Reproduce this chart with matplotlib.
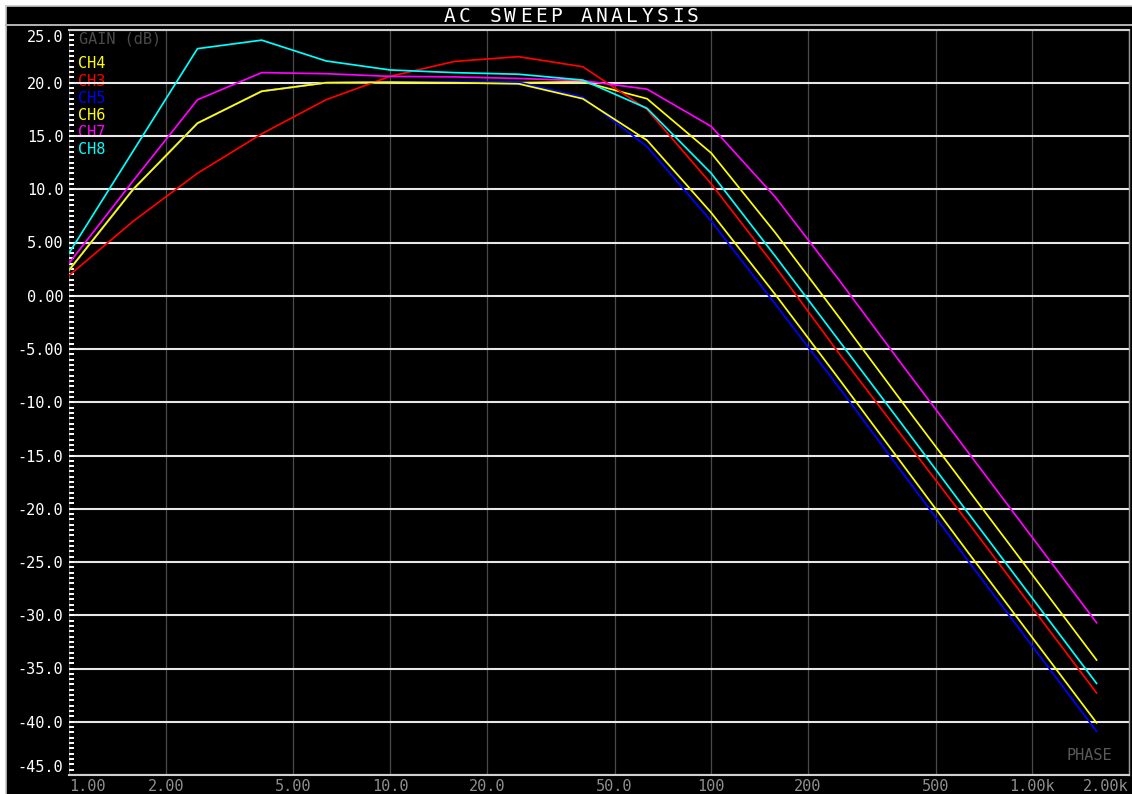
import matplotlib
matplotlib.use("Agg")
import matplotlib.pyplot as plt
from matplotlib.ticker import FixedLocator, FixedFormatter, MultipleLocator
from matplotlib.lines import Line2D

# Sweep frequencies (Hz), five points per decade
freq_hz = [1.0, 1.585, 2.512, 3.981, 6.310, 10.0, 15.85, 25.12, 39.81,
           63.10, 100.0, 158.5, 251.2, 398.1, 631.0, 1000.0, 1585.0]

# Gain of each channel (dB)
ch4_db = [2.4, 10.0, 16.2, 19.2, 20.0, 20.05, 20.05, 20.0, 20.1, 18.5, 13.4,
          5.9, -2.1, -10.2, -18.2, -26.2, -34.2]
ch3_db = [1.9, 7.0, 11.5, 15.2, 18.4, 20.6, 22.0, 22.45, 21.5, 17.5, 10.5,
          2.7, -5.5, -13.4, -21.3, -29.3, -37.3]
ch5_db = [2.4, 10.0, 16.2, 19.2, 20.0, 20.05, 20.1, 20.05, 18.65, 14.0, 7.0,
          -0.8, -8.7, -16.8, -24.9, -32.9, -40.9]
ch6_db = [2.4, 10.0, 16.2, 19.2, 20.0, 20.05, 20.0, 19.9, 18.5, 14.6, 7.8,
          0.1, -7.9, -16.0, -24.1, -32.1, -40.1]
ch7_db = [3.05, 10.8, 18.4, 20.95, 20.85, 20.6, 20.55, 20.4, 20.2, 19.4, 15.9,
          9.25, 1.4, -6.7, -14.7, -22.7, -30.7]
ch8_db = [4.0, 13.6, 23.2, 24.0, 22.05, 21.2, 20.95, 20.8, 20.25, 17.6, 11.5,
          3.7, -4.3, -12.3, -20.4, -28.4, -36.4]

channel_names = ["CH4", "CH3", "CH5", "CH6", "CH7", "CH8"]
channel_data = [ch4_db, ch3_db, ch5_db, ch6_db, ch7_db, ch8_db]
channel_colors = ["#ffff00", "#ff0000", "#0000ff", "#ffff00", "#ff00ff", "#00ffff"]

x_ticks = [1, 2, 5, 10, 20, 50, 100, 200, 500, 1000, 2000]
x_tick_labels = ["1.00", "2.00", "5.00", "10.0", "20.0", "50.0", "100", "200",
                 "500", "1.00k", "2.00k"]
y_ticks = [25, 20, 15, 10, 5, 0, -5, -10, -15, -20, -25, -30, -35, -40, -45]
y_tick_labels = ["25.0", "20.0", "15.0", "10.0", "5.00", "0.00", "-5.00", "-10.0",
                 "-15.0", "-20.0", "-25.0", "-30.0", "-35.0", "-40.0", "-45.0"]

title = "AC SWEEP ANALYSIS"
mono = "DejaVu Sans Mono"

W, H = 1132, 794
fig = plt.figure(figsize=(W / 100, H / 100), dpi=100, facecolor="white")


def fx(px):
    return px / W


def fy(py):
    return 1 - py / H


# Black screen with a light frame and the double rule under the title bar
fig.patches.append(plt.Rectangle((fx(6), 0), 1 - fx(6), fy(6), transform=fig.transFigure,
                                 facecolor="black", edgecolor="none", zorder=-5))
fig.lines.append(Line2D([fx(5.5), fx(5.5)], [0, fy(5.5)], transform=fig.transFigure,
                        color="#c8c8c8", lw=1.2, zorder=-4))
fig.lines.append(Line2D([fx(5.5), 1], [fy(5.5), fy(5.5)], transform=fig.transFigure,
                        color="#c8c8c8", lw=1.2, zorder=-4))
fig.lines.append(Line2D([fx(6), 1], [fy(24.8), fy(24.8)], transform=fig.transFigure,
                        color="#b4b4b4", lw=1.4, zorder=-4))

# Title drawn on a fixed character pitch
pitch = 15.2
x0 = 449.5
for i, ch in enumerate(title):
    if ch != " ":
        fig.text(fx(x0 + i * pitch), fy(16), ch, color="white", family=mono,
                 fontsize=14, ha="center", va="center")

left, right, top, bottom = 69, 1129, 29.5, 775
ax = fig.add_axes([fx(left), fy(bottom), fx(right - left), (bottom - top) / H])
ax.set_facecolor("black")
ax.set_xscale("log")
ax.set_xlim(1, 2000)
ax.set_ylim(-45, 25)

for name, vals, col in zip(channel_names, channel_data, channel_colors):
    ax.plot(freq_hz, vals, color=col, lw=1.25, zorder=3)

ax.xaxis.set_major_locator(FixedLocator(x_ticks))
ax.xaxis.set_major_formatter(FixedFormatter(x_tick_labels))
ax.xaxis.set_minor_locator(FixedLocator([]))
ax.yaxis.set_major_locator(FixedLocator(y_ticks))
ax.yaxis.set_major_formatter(FixedFormatter(y_tick_labels))
ax.yaxis.set_minor_locator(MultipleLocator(0.5))

ax.grid(axis="x", which="major", color="#4a4a4a", lw=0.9)
ax.grid(axis="y", which="major", color="#e8e8e8", lw=1.5)
ax.set_axisbelow(True)

ax.tick_params(axis="x", which="both", length=0, pad=3, labelsize=11,
               labelcolor="#8f8f8f")
ax.tick_params(axis="y", which="both", direction="in", length=3.5, width=1.4,
               color="white", pad=4, labelsize=11, labelcolor="white")
for lab in ax.get_xticklabels() + ax.get_yticklabels():
    lab.set_family(mono)

xl = ax.get_xticklabels()
xl[0].set_ha("left")
xl[-1].set_ha("right")
yl = ax.get_yticklabels()
yl[0].set_va("top")
yl[-1].set_va("bottom")

ax.spines["left"].set_visible(False)
ax.spines["top"].set_color("#d0d0d0")
ax.spines["top"].set_linewidth(1.5)
ax.spines["bottom"].set_color("#d0d0d0")
ax.spines["bottom"].set_linewidth(1.5)
ax.spines["right"].set_color("#9a9a9a")
ax.spines["right"].set_linewidth(1.0)

# Axis caption and trace names, kept beneath the grid
ax.text(fx(79), fy(38.5), "GAIN (dB)", color="#4a4a4a", family=mono, fontsize=11,
        ha="left", va="center", transform=fig.transFigure, zorder=0.2)
for i, (name, col) in enumerate(zip(channel_names, channel_colors)):
    ax.text(fx(78), fy(64 + 17.1 * i), name, color=col, family=mono, fontsize=11,
            ha="left", va="center", transform=fig.transFigure, zorder=0.2)
ax.text(fx(1067), fy(756), "PHASE", color="#5a5a5a", family=mono, fontsize=11,
        ha="left", va="center", transform=fig.transFigure, zorder=0.2)

fig.savefig("out.png", dpi=100, facecolor=fig.get_facecolor())
